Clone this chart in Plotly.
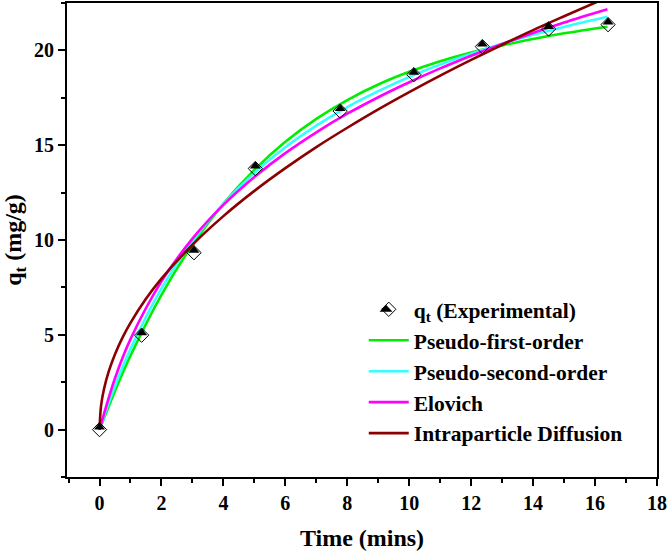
import plotly.graph_objects as go

# Experimental data
t_exp = [0, 1.36, 3.05, 5.03, 7.77, 10.15, 12.36, 14.5, 16.42]
q_exp = [0, 4.98, 9.33, 13.77, 16.8, 18.72, 20.2, 21.13, 21.36]

# Fitted curves
t_fit = [0, 0.5, 1, 2, 3, 4, 5, 6, 7, 8, 9, 10, 11, 12, 13, 14, 15, 16.4]
q_pfo = [0, 2.04, 3.90, 7.11, 9.75, 11.92, 13.7, 15.18, 16.39, 17.38, 18.2,
         18.87, 19.43, 19.89, 20.26, 20.6, 20.9, 21.25]
q_pso = [0, 2.30, 4.26, 7.45, 9.93, 11.92, 13.54, 14.89, 16.03, 17.01, 17.85,
         18.6, 19.25, 19.83, 20.35, 20.82, 21.24, 21.77]
q_elo = [0, 2.71, 4.77, 7.82, 10.07, 11.85, 13.32, 14.58, 15.68, 16.66, 17.53,
         18.32, 19.05, 19.72, 20.34, 20.92, 21.47, 22.17]
t_ipd = [0, 0.05, 0.15, 0.3, 0.5, 0.75, 1, 1.5, 2, 3, 4, 5, 6, 7, 8, 9, 10,
         11, 12, 13, 14, 15, 16.4]
q_ipd = [0, 1.26, 2.18, 3.08, 3.98, 4.88, 5.63, 6.90, 7.96, 9.75, 11.26, 12.59,
         13.79, 14.90, 15.92, 16.89, 17.80, 18.67, 19.50, 20.30, 21.07, 21.80, 22.80]

x_ticks = [0, 2, 4, 6, 8, 10, 12, 14, 16, 18]
y_ticks = [0, 5, 10, 15, 20]

FONT = "Liberation Serif"

fig = go.Figure()

lw = 2.6
fig.add_trace(go.Scatter(x=t_fit, y=q_pfo, mode="lines", name="<b>Pseudo-first-order</b>",
                         line=dict(color="#00EE00", width=lw, shape="spline"), legendgroup="b"))
fig.add_trace(go.Scatter(x=t_fit, y=q_pso, mode="lines", name="<b>Pseudo-second-order</b>",
                         line=dict(color="#33FFFF", width=lw, shape="spline"), legendgroup="c"))
fig.add_trace(go.Scatter(x=t_fit, y=q_elo, mode="lines", name="<b>Elovich</b>",
                         line=dict(color="#FF00FF", width=lw, shape="spline"), legendgroup="d"))
fig.add_trace(go.Scatter(x=t_ipd, y=q_ipd, mode="lines", name="<b>Intraparticle Diffusion</b>",
                         line=dict(color="#8B0000", width=lw, shape="spline"), legendgroup="e"))

# experimental markers: open diamond + filled upper half
fig.add_trace(go.Scatter(x=t_exp, y=q_exp, mode="markers",
                         name="<b>q<sub>t</sub> (Experimental)</b>",
                         marker=dict(symbol="diamond-open", size=11, color="black",
                                     line=dict(width=1, color="black")),
                         legendgroup="a", legendrank=1))
fig.add_trace(go.Scatter(x=t_exp, y=q_exp, mode="markers", showlegend=False,
                         marker=dict(symbol="triangle-down", angle=180, size=9.5, color="black",
                                     standoff=2.4, line=dict(width=0)),
                         legendgroup="a", hoverinfo="skip"))

# filled upper half of the legend's diamond symbol (decoration)
PW, PH, ML, MB, H = 590, 476, 67, 76, 553
def px_to_paper(px, py):
    return (px - ML) / PW, (H - MB - py) / PH
cx, cy = 386, 311
pts = [px_to_paper(cx - 6.5, cy), px_to_paper(cx + 6.5, cy), px_to_paper(cx, cy - 7)]
path = "M {:.4f},{:.4f} L {:.4f},{:.4f} L {:.4f},{:.4f} Z".format(*pts[0], *pts[1], *pts[2])

axis_common = dict(
    showline=True, linecolor="black", linewidth=2, mirror=True,
    ticks="outside", ticklen=7, tickwidth=2, tickcolor="black",
    showgrid=False, zeroline=False,
    tickfont=dict(family=FONT, size=20, color="black"),
)

fig.update_layout(
    width=669, height=553,
    margin=dict(l=ML, r=12, t=1, b=MB),
    plot_bgcolor="white", paper_bgcolor="white",
    font=dict(family=FONT, color="black"),
    xaxis=dict(range=[-1.05, 18], tickvals=x_ticks,
               ticktext=[f"<b>{v}</b>" for v in x_ticks],
               minor=dict(ticks="outside", ticklen=4, tickwidth=2, dtick=1, tick0=1, tickcolor="black"),
               title=dict(text="<b>Time (mins)</b>", font=dict(family=FONT, size=24), standoff=16),
               **axis_common),
    yaxis=dict(range=[-2.5, 22.5], tickvals=y_ticks,
               ticktext=[f"<b>{v}</b>" for v in y_ticks],
               minor=dict(ticks="outside", ticklen=4, tickwidth=2, dtick=2.5, tick0=0, tickcolor="black"),
               title=dict(text="<b>q<sub>t</sub> (mg/g)</b>", font=dict(family=FONT, size=24), standoff=8),
               **axis_common),
    legend=dict(x=0.503, y=0.397, xanchor="left", yanchor="top",
                bgcolor="rgba(0,0,0,0)", font=dict(family=FONT, size=21.5, color="black"),
                tracegroupgap=0, traceorder="grouped", itemwidth=40),
    showlegend=True,
    shapes=[dict(type="path", xref="paper", yref="paper", path=path,
                 fillcolor="black", line=dict(width=0), layer="above")],
)

fig.write_html("out.html")
